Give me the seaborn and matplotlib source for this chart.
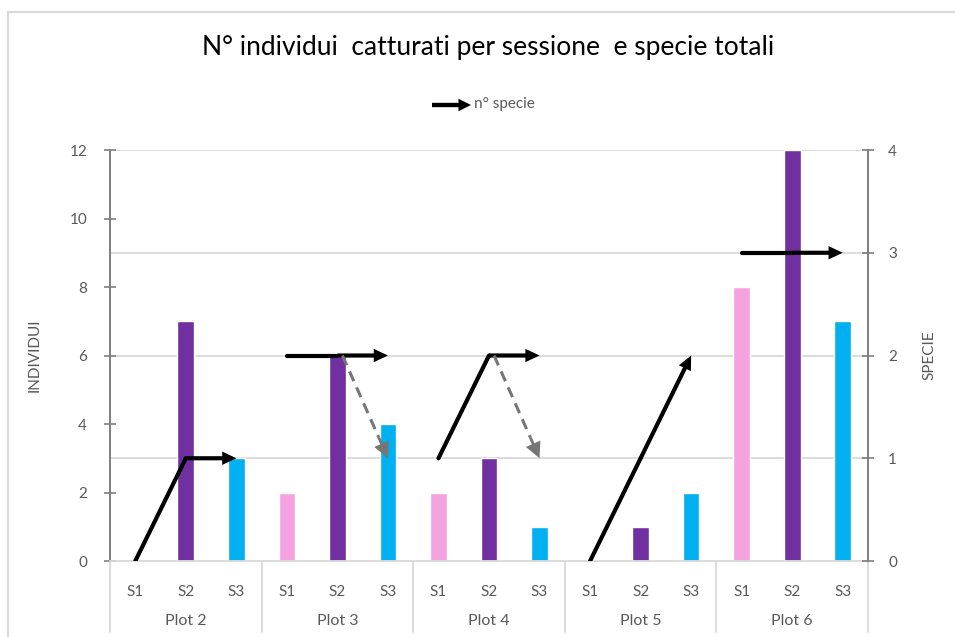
import matplotlib
matplotlib.use("Agg")
import matplotlib.pyplot as plt
import seaborn as sns
import pandas as pd
from matplotlib.lines import Line2D
from matplotlib.patches import FancyArrowPatch

# ---- data ----
plots = ["Plot 2", "Plot 3", "Plot 4", "Plot 5", "Plot 6"]
sessions = ["S1", "S2", "S3"]
individui_S1 = [0, 2, 2, 0, 8]
individui_S2 = [7, 6, 3, 1, 12]
individui_S3 = [3, 4, 1, 2, 7]
# number of species (right axis): start at S1, at S2, arrow end at S3
specie_S1 = [0, 2, 1, 0, 3]
specie_S2 = [1, 2, 2, 1, 3]
specie_S3 = [1, 2, 2, 2, 3]
# dashed (decline) arrows from S2 to S3, None = absent
specie_calo_S3 = [None, 1, 1, None, None]
left_ticks = [0, 2, 4, 6, 8, 10, 12]
right_ticks = [0, 1, 2, 3, 4]

title = "N° individui  catturati per sessione  e specie totali"

# ---- style ----
sns.set_theme(style="white")
plt.rcParams["font.family"] = ["Lato", "DejaVu Sans"]
txt = "#595959"
grid_c = "#D9D9D9"
palette = {"S1": "#F5A3E0", "S2": "#7030A0", "S3": "#00B0F0"}

rows = []
for i, p in enumerate(plots):
    for s, vals in zip(sessions, [individui_S1, individui_S2, individui_S3]):
        rows.append({"key": f"{p}|{s}", "session": s, "value": vals[i]})
df = pd.DataFrame(rows)
order = list(df["key"])

fig = plt.figure(figsize=(9.55, 6.37), dpi=100)
ax = fig.add_axes([0.1152, 0.1193, 0.7937, 0.6452])

# gridlines follow right-axis ticks
scale = max(left_ticks) / max(right_ticks)
for t in right_ticks[1:]:
    ax.axhline(t * scale, color=grid_c, lw=1.3, zorder=0)

sns.barplot(data=df, x="key", y="value", hue="session", order=order,
            palette=palette, dodge=False, width=0.33, ax=ax,
            legend=False, zorder=2, saturation=1)
ax.set_xlim(-0.5, len(order) - 0.5)
ax.set_ylim(0, max(left_ticks))
ax.set_yticks(left_ticks)
ax.set_xlabel("")
ax.set_ylabel("INDIVIDUI", color=txt, fontsize=11, labelpad=20)
ax.set_xticks(range(len(order)))
ax.set_xticklabels([k.split("|")[1] for k in order])
ax.tick_params(axis="x", length=0, pad=17, labelsize=11, labelcolor=txt)
ax.tick_params(axis="y", direction="inout", length=9, width=1.2, color="#7F7F7F",
               labelsize=11, labelcolor=txt, pad=12, left=True)
for side in ["top", "right"]:
    ax.spines[side].set_visible(False)
ax.spines["left"].set_color("#7F7F7F")
ax.spines["left"].set_linewidth(1.4)
ax.spines["bottom"].set_color(grid_c)
ax.spines["bottom"].set_linewidth(1.3)

# group labels and separators
trans = ax.get_xaxis_transform()
for i, p in enumerate(plots):
    ax.text(3 * i + 1, -0.146, p, transform=trans, ha="center", va="center",
            fontsize=11.5, color=txt)
for b in range(len(plots) + 1):
    xb = 3 * b - 0.5
    ax.add_line(Line2D([xb, xb], [0, -0.173], transform=trans, color=grid_c,
                       lw=1.3, clip_on=False))

# right axis
ax2 = ax.twinx()
ax2.set_ylim(0, max(right_ticks))
ax2.set_yticks(right_ticks)
ax2.set_ylabel("SPECIE", color=txt, fontsize=11, labelpad=18)
ax2.tick_params(axis="y", direction="inout", length=9, width=1.2, color="#7F7F7F",
                labelsize=11, labelcolor=txt, pad=10, right=True)
for side in ["top", "left", "bottom"]:
    ax2.spines[side].set_visible(False)
ax2.spines["right"].set_color("#7F7F7F")
ax2.spines["right"].set_linewidth(1.4)

black_arrow = dict(arrowstyle="simple,head_length=0.85,head_width=0.8,tail_width=0.25",
                   fc="black", ec="none", lw=0, mutation_scale=12,
                   shrinkA=0, shrinkB=0)
grey_head = dict(arrowstyle="simple,head_length=0.95,head_width=0.95,tail_width=0.17",
                 fc="#767676", ec="none", lw=0, mutation_scale=12,
                 shrinkA=0, shrinkB=0)
for i in range(len(plots)):
    x0, x1, x2 = 3 * i, 3 * i + 1, 3 * i + 2
    ax2.plot([x0, x1], [specie_S1[i], specie_S2[i]], color="black", lw=3,
             solid_capstyle="round", solid_joinstyle="round", zorder=3)
    ax2.annotate("", xy=(x2, specie_S3[i]), xytext=(x1, specie_S2[i]),
                 arrowprops=black_arrow, zorder=3)
    if specie_calo_S3[i] is not None:
        xs, ys = x1 + 0.1, specie_S2[i]
        xe, ye = x2, specie_calo_S3[i]
        f = 0.8
        xm, ym = xs + f * (xe - xs), ys + f * (ye - ys)
        ax2.plot([xs, xm], [ys, ym], color="#767676", lw=2.2,
                 ls=(0, (3.5, 2.2)), zorder=3)
        ax2.annotate("", xy=(xe, ye), xytext=(xm, ym),
                     arrowprops=grey_head, zorder=3)

# title and legend
fig.text(488 / 955, 1 - 48 / 637, title, ha="center", va="center",
         fontsize=19, color="black")
fig.add_artist(FancyArrowPatch(
    (432 / 955, 1 - 105 / 637), (471 / 955, 1 - 105 / 637),
    transform=fig.transFigure,
    arrowstyle="simple,head_length=1.0,head_width=1.0,tail_width=0.35",
    fc="black", ec="none", lw=0, mutation_scale=9, shrinkA=0, shrinkB=0))
fig.text(474 / 955, 1 - 104 / 637, "n° specie", ha="left", va="center",
         fontsize=11, color=txt)

# outer frame (top and left edges visible)
fig.add_artist(Line2D([7.5 / 955, 7.5 / 955], [0, 1 - 11.5 / 637],
                      transform=fig.transFigure, color=grid_c, lw=1.5))
fig.add_artist(Line2D([7.5 / 955, 1], [1 - 11.5 / 637, 1 - 11.5 / 637],
                      transform=fig.transFigure, color=grid_c, lw=1.5))

fig.savefig("out.png", dpi=100, facecolor="white")
